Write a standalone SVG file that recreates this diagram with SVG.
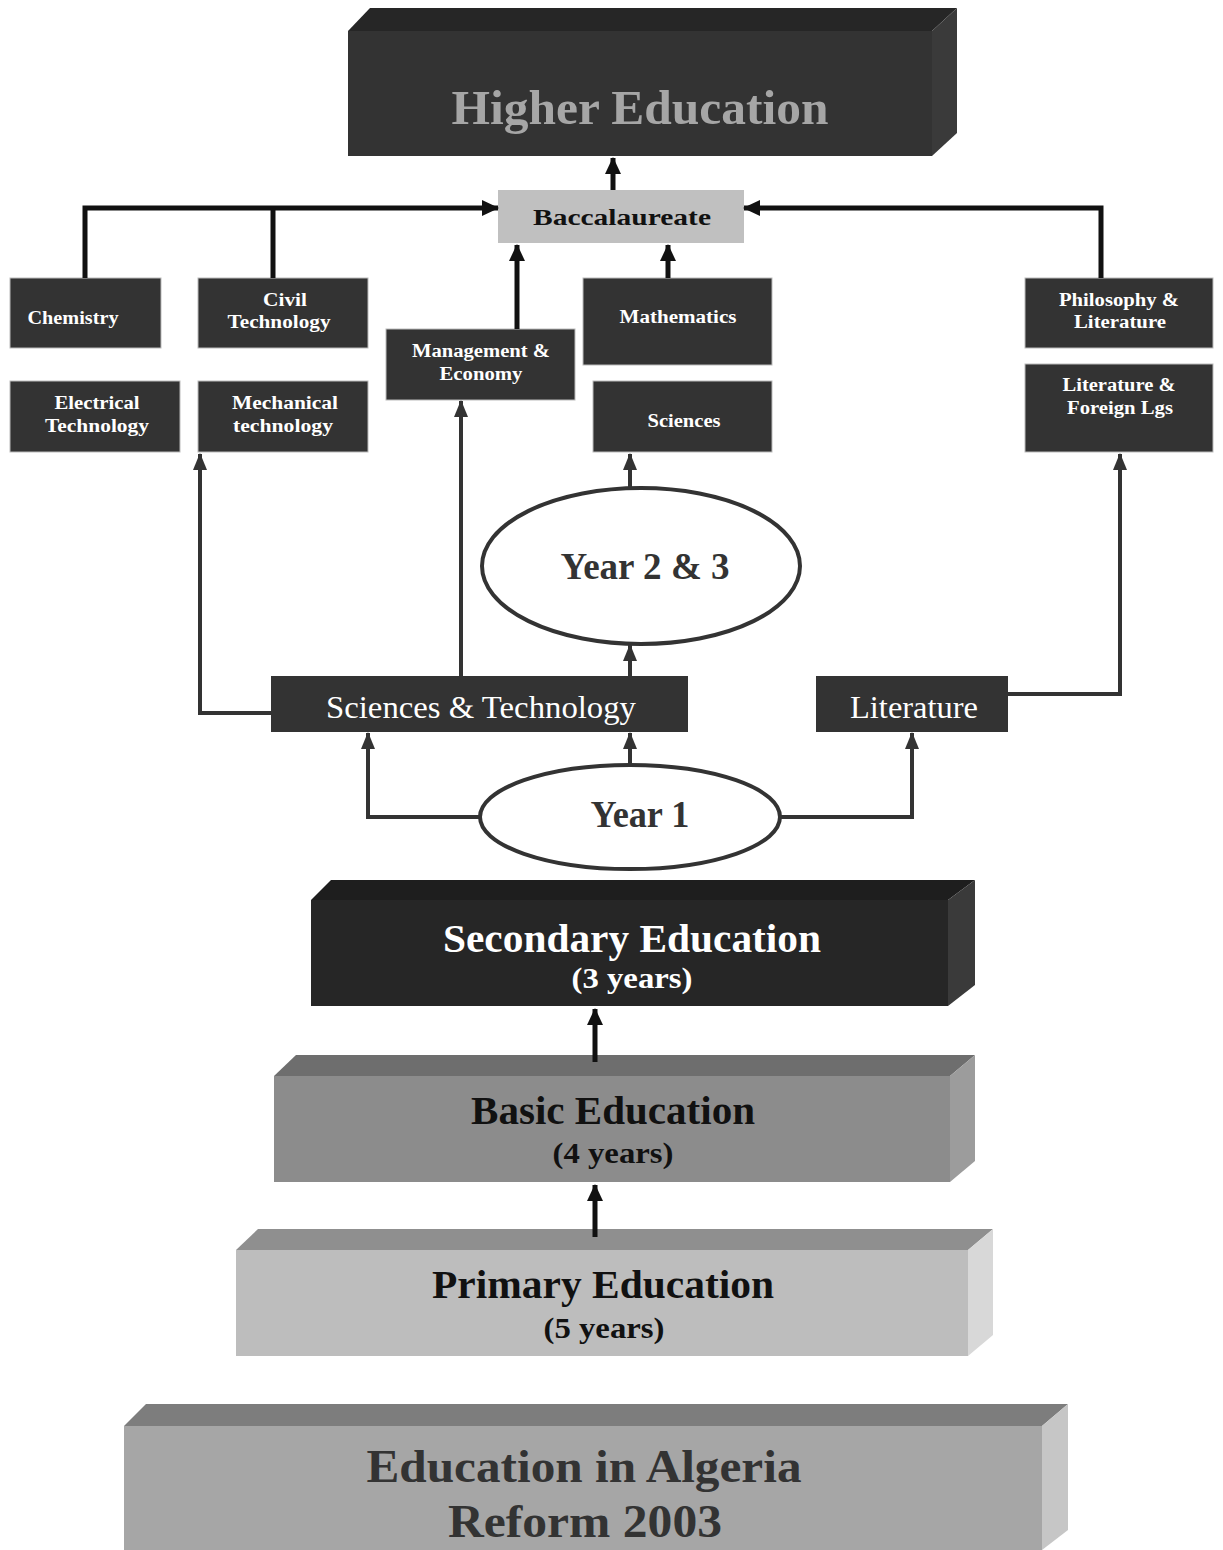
<svg xmlns="http://www.w3.org/2000/svg" width="1223" height="1550" viewBox="0 0 1223 1550">
<defs>
<style>
.t{font-family:"Liberation Serif","Times New Roman",serif;font-weight:bold;text-anchor:middle}
.r{font-family:"Liberation Serif","Times New Roman",serif;text-anchor:middle}
.sm{font-size:18px;fill:#fff}
.box{fill:#333;stroke:#bbb;stroke-width:1}
.ln{fill:none;stroke:#111;stroke-width:5}
.lm{fill:none;stroke:#333;stroke-width:4}
.ell{fill:#fff;stroke:#333;stroke-width:4}
</style>
<marker id="ak" markerUnits="userSpaceOnUse" markerWidth="18" markerHeight="18" viewBox="0 0 18 18" refX="16" refY="9" orient="auto"><path d="M0,1 L17,9 L0,17 Z" fill="#111"/></marker>
<marker id="ag" markerUnits="userSpaceOnUse" markerWidth="18" markerHeight="18" viewBox="0 0 18 18" refX="16" refY="9" orient="auto"><path d="M0,2 L17,9 L0,16 Z" fill="#333"/></marker>
</defs>
<rect width="1223" height="1550" fill="#fff"/>

<g id="higher-education">
<polygon points="348,31 370,8 957,8 932,31" fill="#262626"/>
<polygon points="932,31 957,8 957,133 932,156" fill="#3a3a3a"/>
<rect x="348" y="31" width="584" height="125" fill="#333"/>
<text class="t" x="640" y="124" font-size="48" fill="#a6a6a6" textLength="377" lengthAdjust="spacingAndGlyphs">Higher Education</text>
</g>

<g id="baccalaureate">
<rect x="498" y="190" width="246" height="53" fill="#c0c0c0"/>
<text class="t" x="622" y="225" font-size="23" fill="#111" textLength="178" lengthAdjust="spacingAndGlyphs">Baccalaureate</text>
</g>

<g id="chemistry"><rect class="box" x="10" y="278" width="151" height="70"/><text class="t sm" x="73" y="324" textLength="91" lengthAdjust="spacingAndGlyphs">Chemistry</text></g>
<g id="civil-technology"><rect class="box" x="198" y="278" width="170" height="70"/><text class="t sm" x="285" y="306" textLength="44" lengthAdjust="spacingAndGlyphs">Civil</text><text class="t sm" x="279" y="328" textLength="103" lengthAdjust="spacingAndGlyphs">Technology</text></g>
<g id="electrical-technology"><rect class="box" x="10" y="381" width="170" height="71"/><text class="t sm" x="97" y="409" textLength="85" lengthAdjust="spacingAndGlyphs">Electrical</text><text class="t sm" x="97" y="432" textLength="104" lengthAdjust="spacingAndGlyphs">Technology</text></g>
<g id="mechanical-technology"><rect class="box" x="198" y="381" width="170" height="71"/><text class="t sm" x="285" y="409" textLength="106" lengthAdjust="spacingAndGlyphs">Mechanical</text><text class="t sm" x="283" y="432" textLength="100" lengthAdjust="spacingAndGlyphs">technology</text></g>
<g id="management-economy"><rect class="box" x="386" y="329" width="189" height="71"/><text class="t sm" x="481" y="357" textLength="138" lengthAdjust="spacingAndGlyphs">Management &amp;</text><text class="t sm" x="481" y="380" textLength="83" lengthAdjust="spacingAndGlyphs">Economy</text></g>
<g id="mathematics"><rect class="box" x="583" y="278" width="189" height="87"/><text class="t sm" x="678" y="323" textLength="117" lengthAdjust="spacingAndGlyphs">Mathematics</text></g>
<g id="sciences"><rect class="box" x="593" y="381" width="179" height="71"/><text class="t sm" x="684" y="427" textLength="73" lengthAdjust="spacingAndGlyphs">Sciences</text></g>
<g id="philosophy-literature"><rect class="box" x="1025" y="278" width="188" height="70"/><text class="t sm" x="1119" y="306" textLength="120" lengthAdjust="spacingAndGlyphs">Philosophy &amp;</text><text class="t sm" x="1120" y="328" textLength="92" lengthAdjust="spacingAndGlyphs">Literature</text></g>
<g id="literature-foreign"><rect class="box" x="1025" y="364" width="188" height="88"/><text class="t sm" x="1119" y="391" textLength="113" lengthAdjust="spacingAndGlyphs">Literature &amp;</text><text class="t sm" x="1120" y="414" textLength="106" lengthAdjust="spacingAndGlyphs">Foreign Lgs</text></g>

<g id="year23">
<ellipse class="ell" cx="641" cy="566" rx="159" ry="78"/>
<text class="t" x="645" y="579" font-size="38" fill="#333" textLength="169" lengthAdjust="spacingAndGlyphs">Year 2 &amp; 3</text>
</g>

<g id="sciences-technology">
<rect x="271" y="676" width="417" height="56" fill="#333"/>
<text class="r" x="481" y="718" font-size="32" fill="#fff" textLength="310" lengthAdjust="spacingAndGlyphs">Sciences &amp; Technology</text>
</g>
<g id="literature">
<rect x="816" y="676" width="192" height="56" fill="#333"/>
<text class="r" x="914" y="718" font-size="32" fill="#fff" textLength="128" lengthAdjust="spacingAndGlyphs">Literature</text>
</g>

<g id="year1">
<ellipse class="ell" cx="630" cy="817" rx="150" ry="52"/>
<text class="t" x="640" y="827" font-size="38" fill="#333" textLength="99" lengthAdjust="spacingAndGlyphs">Year 1</text>
</g>

<g id="secondary-education">
<polygon points="311,900 331,880 975,880 948,900" fill="#1e1e1e"/>
<polygon points="948,900 975,880 975,985 948,1006" fill="#3a3a3a"/>
<rect x="311" y="900" width="637" height="106" fill="#262626"/>
<text class="t" x="632" y="952" font-size="41" fill="#fff" textLength="378" lengthAdjust="spacingAndGlyphs">Secondary Education</text>
<text class="t" x="632" y="988" font-size="30" fill="#fff" textLength="121" lengthAdjust="spacingAndGlyphs">(3 years)</text>
</g>

<g id="basic-education">
<polygon points="274,1076 296,1055 975,1055 950,1076" fill="#6e6e6e"/>
<polygon points="950,1076 975,1055 975,1161 950,1182" fill="#9c9c9c"/>
<rect x="274" y="1076" width="676" height="106" fill="#8c8c8c"/>
<text class="t" x="613" y="1124" font-size="40" fill="#111" textLength="284" lengthAdjust="spacingAndGlyphs">Basic Education</text>
<text class="t" x="613" y="1163" font-size="30" fill="#111" textLength="121" lengthAdjust="spacingAndGlyphs">(4 years)</text>
</g>

<g id="primary-education">
<polygon points="236,1250 258,1229 993,1229 968,1250" fill="#8f8f8f"/>
<polygon points="968,1250 993,1229 993,1335 968,1356" fill="#d8d8d8"/>
<rect x="236" y="1250" width="732" height="106" fill="#bdbdbd"/>
<text class="t" x="603" y="1298" font-size="40" fill="#111" textLength="342" lengthAdjust="spacingAndGlyphs">Primary Education</text>
<text class="t" x="604" y="1338" font-size="30" fill="#111" textLength="121" lengthAdjust="spacingAndGlyphs">(5 years)</text>
</g>

<g id="education-algeria">
<polygon points="124,1426 146,1404 1068,1404 1042,1426" fill="#7d7d7d"/>
<polygon points="1042,1426 1068,1404 1068,1530 1042,1550" fill="#c6c6c6"/>
<rect x="124" y="1426" width="918" height="124" fill="#a6a6a6"/>
<text class="t" x="584" y="1482" font-size="46" fill="#333" textLength="435" lengthAdjust="spacingAndGlyphs">Education in Algeria</text>
<text class="t" x="585" y="1537" font-size="46" fill="#333" textLength="274" lengthAdjust="spacingAndGlyphs">Reform 2003</text>
</g>

<g id="connectors">
<path class="ln" d="M613,190 V158" marker-end="url(#ak)"/>
<path class="ln" d="M85,278 V208 H498" marker-end="url(#ak)"/>
<path class="ln" d="M273,278 V208"/>
<path class="ln" d="M1101,278 V208 H744" marker-end="url(#ak)"/>
<path class="ln" d="M517,329 V245" marker-end="url(#ak)"/>
<path class="ln" d="M668,278 V245" marker-end="url(#ak)"/>
<path class="lm" d="M630,488 V454" marker-end="url(#ag)"/>
<path class="lm" d="M630,676 V645" marker-end="url(#ag)"/>
<path class="lm" d="M461,676 V401" marker-end="url(#ag)"/>
<path class="lm" d="M271,713 H200 V454" marker-end="url(#ag)"/>
<path class="lm" d="M1008,694 H1120 V454" marker-end="url(#ag)"/>
<path class="lm" d="M480,817 H368 V733" marker-end="url(#ag)"/>
<path class="lm" d="M630,765 V733" marker-end="url(#ag)"/>
<path class="lm" d="M780,817 H912 V733" marker-end="url(#ag)"/>
<path class="ln" d="M595,1062 V1009" stroke-width="4" marker-end="url(#ak)"/>
<path class="ln" d="M595,1237 V1185" stroke-width="4" marker-end="url(#ak)"/>
</g>
</svg>
